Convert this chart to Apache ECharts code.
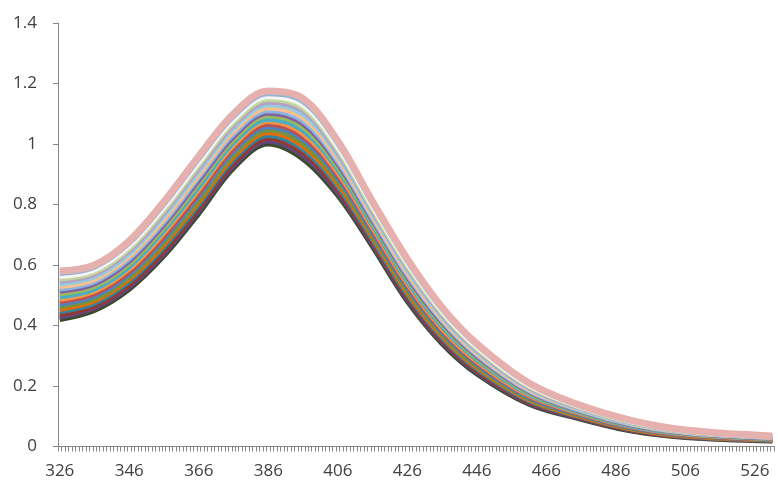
<!DOCTYPE html>
<html>
<head>
<meta charset="utf-8">
<script src="https://cdn.jsdelivr.net/npm/echarts@6/dist/echarts.min.js"></script>
<style>html,body{margin:0;padding:0;background:#fff}#c{width:778px;height:482px}</style>
</head>
<body>
<div id="c"></div>
<script>
// Category axis: wavelengths 326..531 (1 nm steps)
const categories = [];
for (let w = 326; w <= 531; w++) categories.push(String(w));

// Wavelengths where each spectrum was sampled from the picture
const sampleX = [326, 336, 346, 356, 366, 376, 386, 396, 406, 416, 426, 436, 446, 461, 476, 491, 506, 531];

// Spectra, bottom (lowest) to top (highest)
const s0  = [.42, .45, .52, .63, .77, .92, 1.00, .95, .83, .66, .48, .34, .24, .14, .09, .05, .03, .018];
const s1  = [.428, .458, .528, .639, .78, .929, 1.009, .96, .839, .668, .487, .346, .245, .144, .092, .052, .031, .019];
const s2  = [.436, .465, .536, .648, .789, .938, 1.018, .97, .848, .675, .494, .352, .25, .147, .095, .054, .033, .02];
const s3  = [.446, .474, .546, .659, .80, .949, 1.028, .982, .859, .684, .502, .359, .256, .151, .097, .056, .034, .021];
const s4  = [.454, .482, .554, .668, .81, .958, 1.037, .992, .868, .692, .509, .365, .261, .155, .099, .057, .035, .022];
const s5  = [.462, .489, .562, .677, .819, .967, 1.046, 1.002, .877, .699, .516, .371, .266, .158, .102, .059, .037, .022];
const s6  = [.471, .498, .571, .688, .831, .978, 1.056, 1.014, .888, .708, .525, .378, .272, .162, .104, .061, .038, .023];
const s7  = [.479, .506, .579, .697, .84, .987, 1.065, 1.024, .897, .716, .532, .384, .277, .166, .107, .063, .039, .024];
const s8  = [.487, .513, .587, .706, .85, .996, 1.074, 1.034, .906, .723, .539, .39, .282, .169, .109, .065, .041, .025];
const s9  = [.495, .521, .595, .715, .859, 1.005, 1.082, 1.044, .915, .731, .546, .396, .287, .173, .111, .066, .042, .026];
const s10 = [.505, .53, .605, .725, .871, 1.015, 1.093, 1.056, .925, .74, .554, .404, .293, .177, .114, .069, .043, .027];
const s11 = [.513, .537, .613, .734, .88, 1.024, 1.102, 1.066, .934, .747, .561, .41, .298, .181, .116, .07, .045, .028];
const s12 = [.521, .545, .621, .743, .89, 1.033, 1.11, 1.076, .943, .755, .568, .416, .303, .184, .118, .072, .046, .029];
const s13 = [.529, .552, .629, .752, .899, 1.042, 1.119, 1.086, .952, .762, .575, .422, .308, .188, .121, .074, .047, .03];
const s14 = [.538, .561, .638, .763, .911, 1.053, 1.13, 1.098, .963, .771, .584, .429, .314, .192, .123, .076, .049, .031];
const s15 = [.546, .569, .646, .772, .92, 1.062, 1.138, 1.108, .972, .779, .591, .435, .319, .195, .126, .078, .05, .031];
const s16 = [.554, .576, .654, .781, .93, 1.071, 1.147, 1.118, .981, .786, .598, .441, .324, .199, .128, .079, .051, .032];
const s17 = [.562, .584, .662, .79, .939, 1.08, 1.156, 1.128, .99, .794, .605, .447, .329, .202, .13, .081, .052, .033];
const s18 = [.572, .593, .672, .801, .951, 1.091, 1.166, 1.14, 1.001, .803, .613, .454, .335, .207, .133, .083, .054, .034];
const s19 = [.58, .60, .68, .81, .96, 1.10, 1.175, 1.15, 1.01, .81, .62, .46, .34, .21, .135, .085, .055, .035];

const spectra = [s0, s1, s2, s3, s4, s5, s6, s7, s8, s9, s10, s11, s12, s13, s14, s15, s16, s17, s18, s19];

const colors = ['#3B4A2A', '#5F497A', '#953735', '#31859C', '#E46C0A', '#77933C', '#4F81BD', '#C0504D',
  '#F79646', '#4BACC6', '#9BBB59', '#8064A2', '#8EB4E3', '#FAC090', '#93CDDD', '#B3A2C7',
  '#C3D69B', '#F4F4F4', '#95B3D7', '#E6B0AE'];

const yTicks = { min: 0, max: 1.4, step: 0.2 };

const font = 'Open Sans';
const series = spectra.map((s, k) => ({
  type: 'line',
  data: sampleX.map((x, i) => [String(x), s[i]]),
  smooth: 0.35,
  showSymbol: false,
  symbol: 'none',
  lineStyle: { width: k === spectra.length - 1 ? 7 : 5, color: colors[k] },
  itemStyle: { color: colors[k] },
  animation: false,
  z: 2
}));

const chart = echarts.init(document.getElementById('c'), null, { renderer: 'canvas' });
chart.setOption({
  animation: false,
  backgroundColor: '#ffffff',
  grid: { left: 58, right: 4, top: 23, bottom: 35.5, containLabel: false },
  xAxis: {
    type: 'category',
    data: categories,
    boundaryGap: true,
    axisLine: { lineStyle: { color: '#868686', width: 1 } },
    axisTick: { show: true, interval: 0, length: 5, lineStyle: { color: '#868686' } },
    axisLabel: { interval: 19, margin: 16, color: '#404040', fontFamily: font, fontSize: 17 },
    splitLine: { show: false }
  },
  yAxis: {
    type: 'value',
    min: yTicks.min, max: yTicks.max, interval: yTicks.step,
    axisLine: { show: true, lineStyle: { color: '#868686', width: 1 } },
    axisTick: { show: true, length: 5, lineStyle: { color: '#868686' } },
    axisLabel: { margin: 21, color: '#404040', fontFamily: font, fontSize: 17 },
    splitLine: { show: false }
  },
  series: series
});
</script>
</body>
</html>
